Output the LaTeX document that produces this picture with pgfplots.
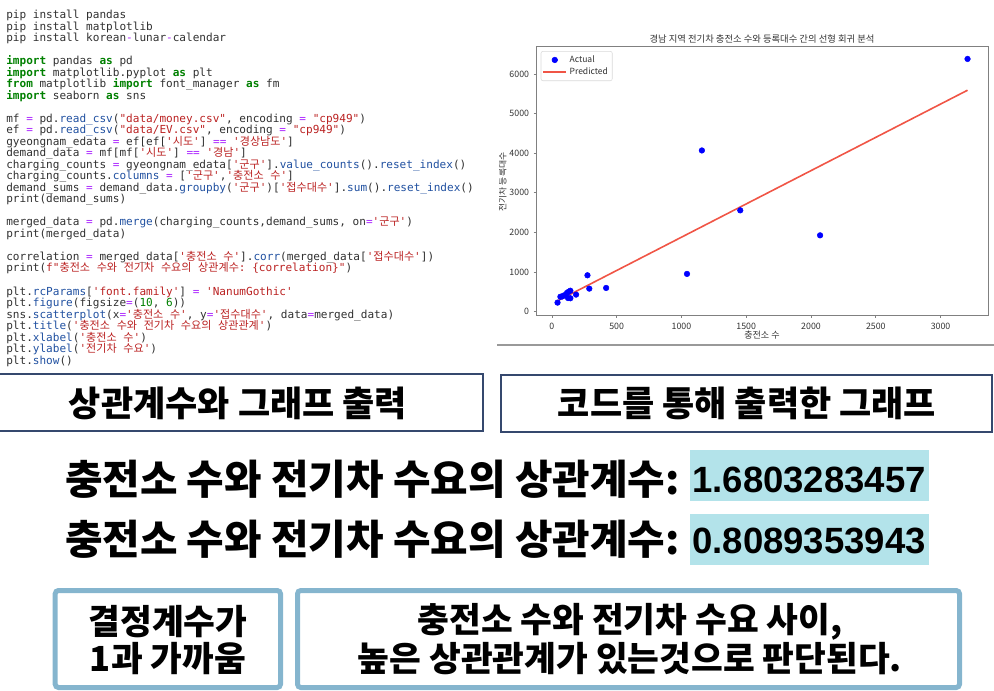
\documentclass[border=0pt]{standalone}
\usepackage{pgfplots}
\pgfplotsset{compat=1.18}
\usepackage{fontspec}
\setmonofont{DejaVu Sans Mono}
\newfontfamily\kr{Noto Sans CJK KR}
\newfontfamily\numf{Liberation Sans}
\definecolor{codegray}{HTML}{303030}
\definecolor{kwgreen}{HTML}{008000}
\definecolor{strred}{HTML}{BA2121}
\definecolor{oppurple}{HTML}{AA22FF}
\definecolor{attblue}{HTML}{2050A0}
\definecolor{navyline}{HTML}{35486E}
\definecolor{lightbluebox}{HTML}{85B5CE}
\definecolor{hilite}{HTML}{B3E3EA}
\definecolor{predred}{RGB}{240,85,70}
\definecolor{axgray}{HTML}{808080}
\definecolor{lbl}{HTML}{333333}
\newcommand\kw[1]{{\bfseries\color{kwgreen}#1}}
\newcommand\st[1]{{\color{strred}#1}}
\newcommand\op[1]{{\color{oppurple}#1}}
\newcommand\at[1]{{\color{attblue}#1}}
\newcommand\nm[1]{{\color{kwgreen}#1}}
\newcommand\ko[1]{{\kr #1}}
\newcommand\cl[2]{\node[anchor=base west, inner sep=0pt, text=codegray, font=\ttfamily\fontsize{8.3}{10}\selectfont] at (6,{-(15.7+(#1-1)*11.5+3.3)}) {#2};}
\begin{document}
\begin{tikzpicture}[x=0.75pt,y=0.75pt]
\useasboundingbox (0,0) rectangle (994,-691);
% ---------- code ----------
\cl{1}{pip install pandas}
\cl{2}{pip install matplotlib}
\cl{3}{pip install korean\op{-}lunar\op{-}calendar}
\cl{5}{\kw{import} pandas \kw{as} pd}
\cl{6}{\kw{import} matplotlib.pyplot \kw{as} plt}
\cl{7}{\kw{from} matplotlib \kw{import} font\_manager \kw{as} fm}
\cl{8}{\kw{import} seaborn \kw{as} sns}
\cl{10}{mf \op{=} pd.\at{read\_csv}(\st{"data/money.csv"}, encoding \op{=} \st{"cp949"})}
\cl{11}{ef \op{=} pd.\at{read\_csv}(\st{"data/EV.csv"}, encoding \op{=} \st{"cp949"})}
\cl{12}{gyeongnam\_edata \op{=} ef[ef[\st{'\ko{시도}'}] \op{==} \st{'\ko{경상남도}'}]}
\cl{13}{demand\_data \op{=} mf[mf[\st{'\ko{시도}'}] \op{==} \st{'\ko{경남}'}]}
\cl{14}{charging\_counts \op{=} gyeongnam\_edata[\st{'\ko{군구}'}].\at{value\_counts}().\at{reset\_index}()}
\cl{15}{charging\_counts.\at{columns} \op{=} [\st{'\ko{군구}'},\st{'\ko{충전소} \ko{수}'}]}
\cl{16}{demand\_sums \op{=} demand\_data.\at{groupby}(\st{'\ko{군구}'})[\st{'\ko{접수대수}'}].\at{sum}().\at{reset\_index}()}
\cl{17}{print(demand\_sums)}
\cl{19}{merged\_data \op{=} pd.\at{merge}(charging\_counts,demand\_sums, on\op{=}\st{'\ko{군구}'})}
\cl{20}{print(merged\_data)}
\cl{22}{correlation \op{=} merged\_data[\st{'\ko{충전소} \ko{수}'}].\at{corr}(merged\_data[\st{'\ko{접수대수}'}])}
\cl{23}{print(\st{f"\ko{충전소} \ko{수와} \ko{전기차} \ko{수요의} \ko{상관계수}: \{correlation\}"})}
\cl{25}{plt.\at{rcParams}[\st{'font.family'}] \op{=} \st{'NanumGothic'}}
\cl{26}{plt.\at{figure}(figsize\op{=}(\nm{10}, \nm{6}))}
\cl{27}{sns.\at{scatterplot}(x\op{=}\st{'\ko{충전소} \ko{수}'}, y\op{=}\st{'\ko{접수대수}'}, data\op{=}merged\_data)}
\cl{28}{plt.\at{title}(\st{'\ko{충전소} \ko{수와} \ko{전기차} \ko{수요의} \ko{상관관계}'})}
\cl{29}{plt.\at{xlabel}(\st{'\ko{충전소} \ko{수}'})}
\cl{30}{plt.\at{ylabel}(\st{'\ko{전기차} \ko{수요}'})}
\cl{31}{plt.\at{show}()}
% ---------- chart ----------
\begin{axis}[
  at={(402.5pt,-236.25pt)}, anchor=south west,
  scale only axis, width=338.5pt, height=201.2pt,
  xmin=-117, xmax=3366, ymin=-88, ymax=6686,
  xtick={0,500,1000,1500,2000,2500,3000},
  ytick={0,1000,2000,3000,4000,5000,6000},
  scaled ticks=false,
  /pgf/number format/1000 sep={},
  /pgf/number format/assume math mode=true,
  tick pos=left, tick align=outside,
  major tick length=2.2pt,
  tick style={axgray, line width=0.5pt},
  axis line style={axgray, line width=0.7pt},
  ticklabel style={font=\kr\fontsize{6.6}{8}\selectfont, text=lbl},
  xticklabel style={yshift=-0.5pt},
  legend style={at={(0.009,0.984)}, anchor=north west, draw=black!15, rounded corners=1.5pt,
    font=\kr\fontsize{6.4}{7.5}\selectfont, text=lbl, inner sep=1.2pt, row sep=-1.5pt},
  legend cell align=left,
]
\addplot[only marks, mark=*, mark size=2.1pt, color=blue, mark options={draw=blue, fill=blue}] coordinates {
 (3208,6378) (1158,4067) (1454,2555) (2070,1924) (1043,950) (275,915)
 (289,578) (419,595) (187,427) (44,225) (66,373) (92,405) (117,470)
 (143,525) (125,340) (143,335) (80,380) (130,500)
};
\addlegendentry{Actual}
\addplot[predred, line width=1.2pt] coordinates {(44,269) (3208,5588)};
\addlegendentry{Predicted}
\end{axis}
\node[font=\kr\fontsize{7}{8}\selectfont, text=lbl] at (762,-39) {경남 지역 전기차 충전소 수와 등록대수 간의 선형 회귀 분석};
\node[font=\kr\fontsize{6.8}{8}\selectfont, text=lbl] at (762,-335.5) {충전소 수};
\begin{scope}
\clip (499,0) rectangle (994,-345);
\node[rotate=90, font=\kr\fontsize{6.6}{8}\selectfont, text=lbl] at (502.5,-182) {전기차 등록대수};
\end{scope}
\draw[black!40, line width=0.8pt] (497,-345) -- (994,-345);
% ---------- bottom ----------
\draw[navyline, line width=1.5pt] (-3,-374) rectangle (483,-431);
\node[font=\kr\bfseries\fontsize{26.25}{30}\selectfont] at (238,-403) {상관계수와 그래프 출력};
\draw[navyline, line width=1.5pt] (500.5,-374.5) rectangle (992,-432);
\node[font=\kr\bfseries\fontsize{26.25}{30}\selectfont] at (747,-403) {코드를 통해 출력한 그래프};
\fill[hilite] (690,-450) rectangle (929,-501);
\fill[hilite] (690,-514) rectangle (929,-565);
\node[anchor=base east, inner sep=0pt, font=\kr\bfseries\fontsize{30.6}{34}\selectfont] at (680,-494) {충전소 수와 전기차 수요의 상관계수:};
\node[anchor=base east, inner sep=0pt, font=\kr\bfseries\fontsize{30.6}{34}\selectfont] at (680,-554.5) {충전소 수와 전기차 수요의 상관계수:};
\node[anchor=base west, inner sep=0pt, font=\numf\bfseries\fontsize{27.4}{30}\selectfont] at (692,-492.7) {1.6803283457};
\node[anchor=base west, inner sep=0pt, font=\numf\bfseries\fontsize{27.4}{30}\selectfont] at (692,-553.3) {0.8089353943};
\draw[lightbluebox, line width=3.75pt, rounded corners=2.5pt] (55.2,-590.5) rectangle (280.5,-687.5);
\draw[lightbluebox, line width=3.75pt, rounded corners=2.5pt] (297.5,-590.5) rectangle (959.5,-687.5);
\node[font=\kr\bfseries\fontsize{25.9}{30}\selectfont] at (168,-622) {결정계수가};
\node[font=\kr\bfseries\fontsize{25.9}{30}\selectfont] at (168,-659) {1과 가까움};
\node[font=\kr\bfseries\fontsize{25.9}{30}\selectfont] at (630,-622) {충전소 수와 전기차 수요 사이,};
\node[font=\kr\bfseries\fontsize{25.9}{30}\selectfont] at (630,-659) {높은 상관관계가 있는것으로 판단된다.};
\end{tikzpicture}
\end{document}
